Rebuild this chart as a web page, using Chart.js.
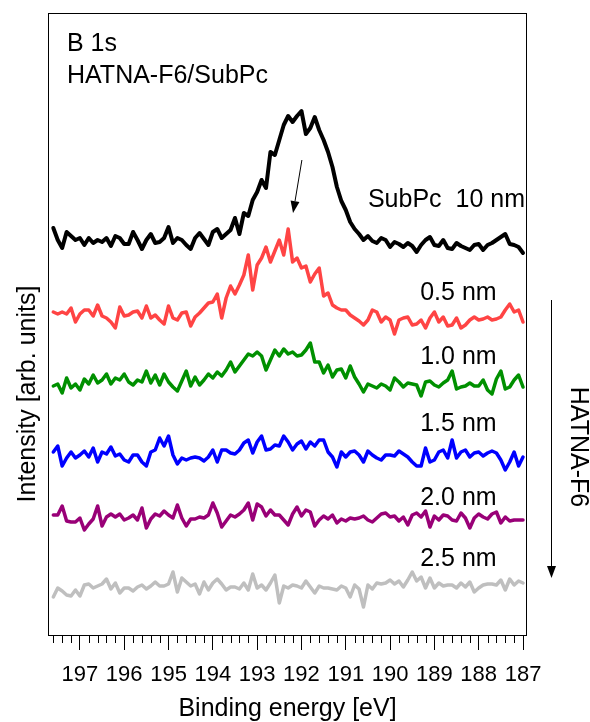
<!DOCTYPE html>
<html>
<head>
<meta charset="utf-8">
<script src="https://cdn.jsdelivr.net/npm/chart.js@4.4.0/dist/chart.umd.min.js"></script>
<style>
  html, body { margin: 0; padding: 0; background: #fff; }
  canvas { display: block; }
</style>
</head>
<body>
<canvas id="myChart" width="590" height="722"></canvas>
<script>
// binding energy of each sample [eV]
const energies = [
  197.6, 197.5, 197.4, 197.3, 197.2, 197.1, 197.0, 196.9, 196.8, 196.7,
  196.6, 196.5, 196.4, 196.3, 196.2, 196.1, 196.0, 195.9, 195.8, 195.7,
  195.6, 195.5, 195.4, 195.3, 195.2, 195.1, 195.0, 194.9, 194.8, 194.7,
  194.6, 194.5, 194.4, 194.3, 194.2, 194.1, 194.0, 193.9, 193.8, 193.7,
  193.6, 193.5, 193.4, 193.3, 193.2, 193.1, 193.0, 192.9, 192.8, 192.7,
  192.6, 192.5, 192.4, 192.3, 192.2, 192.1, 192.0, 191.9, 191.8, 191.7,
  191.6, 191.5, 191.4, 191.3, 191.2, 191.1, 191.0, 190.9, 190.8, 190.7,
  190.6, 190.5, 190.4, 190.3, 190.2, 190.1, 190.0, 189.9, 189.8, 189.7,
  189.6, 189.5, 189.4, 189.3, 189.2, 189.1, 189.0, 188.9, 188.8, 188.7,
  188.6, 188.5, 188.4, 188.3, 188.2, 188.1, 188.0, 187.9, 187.8, 187.7,
  187.6, 187.5, 187.4, 187.3, 187.2, 187.1, 187.0
];

// intensities (offset for display, arb. units)
const subpc10nm = [
  407, 395, 387, 403, 399, 395, 397, 390, 397, 392,
  395, 393, 397, 389, 399, 397, 391, 391, 403, 395,
  386, 395, 401, 392, 393, 397, 408, 392, 397, 395,
  390, 386, 397, 402, 396, 390, 403, 406, 397, 401,
  405, 417, 401, 422, 419, 435, 443, 455, 447, 483,
  480, 495, 510, 519, 513, 519, 524, 501, 507, 518,
  505, 495, 483, 468, 448, 434, 425, 413, 406, 401,
  395, 399, 394, 392, 397, 395, 388, 393, 391, 388,
  392, 389, 383, 390, 395, 398, 390, 389, 395, 387,
  386, 392, 389, 387, 385, 390, 391, 385, 390, 392,
  395, 398, 401, 391, 390, 388, 382
];
const hatna05 = [
  323, 321, 323, 321, 327, 313, 321, 325, 325, 319,
  330, 319, 317, 313, 307, 328, 319, 320, 323, 324,
  317, 329, 317, 320, 315, 311, 329, 317, 315, 322,
  323, 309, 318, 322, 327, 332, 333, 341, 317, 337,
  349, 341, 350, 360, 380, 345, 370, 377, 388, 373,
  384, 395, 380, 406, 373, 377, 367, 369, 353, 361,
  367, 339, 342, 330, 327, 325, 325, 320, 317, 314,
  310, 315, 325, 323, 313, 318, 315, 301, 315, 317,
  318, 310, 311, 315, 307, 317, 323, 313, 318, 309,
  310, 317, 307, 310, 315, 318, 315, 316, 318, 315,
  316, 318, 325, 331, 323, 325, 313
];
const hatna10 = [
  249, 251, 242, 257, 247, 251, 245, 256, 251, 260,
  252, 255, 261, 251, 257, 255, 261, 253, 250, 255,
  253, 264, 252, 260, 250, 261, 253, 248, 244, 254,
  264, 249, 258, 250, 255, 261, 257, 263, 259, 265,
  273, 263, 269, 275, 281, 279, 283, 279, 265, 275,
  285, 279, 286, 281, 283, 279, 280, 285, 292, 273,
  273, 262, 270, 258, 265, 266, 257, 269, 258, 251,
  243, 251, 249, 247, 251, 249, 245, 257, 253, 248,
  252, 251, 250, 239, 253, 254, 250, 248, 252, 255,
  264, 246, 248, 249, 252, 249, 249, 255, 245, 241,
  256, 264, 246, 248, 255, 260, 248
];
const hatna15 = [
  183, 189, 169, 177, 183, 177, 180, 184, 178, 187,
  173, 183, 181, 188, 179, 181, 175, 173, 180, 180,
  173, 169, 183, 185, 197, 189, 199, 180, 171, 177,
  175, 177, 178, 177, 174, 178, 185, 173, 185, 185,
  182, 181, 185, 192, 195, 182, 193, 199, 185, 186,
  190, 189, 199, 193, 185, 191, 194, 186, 193, 189,
  195, 195, 183, 178, 168, 183, 178, 183, 184, 180,
  173, 184, 180, 177, 175, 180, 180, 179, 184, 181,
  178, 173, 169, 169, 187, 173, 175, 183, 185, 177,
  195, 177, 183, 185, 178, 182, 183, 179, 182, 184,
  182, 175, 165, 173, 183, 169, 178
];
const hatna20 = [
  120, 120, 129, 114, 113, 113, 117, 105, 111, 116,
  129, 109, 118, 121, 118, 121, 115, 117, 120, 115,
  127, 107, 116, 121, 119, 124, 120, 117, 130, 117,
  109, 116, 116, 118, 117, 120, 132, 122, 108, 114,
  120, 118, 121, 125, 132, 115, 131, 128, 119, 125,
  120, 120, 115, 110, 121, 128, 119, 125, 123, 109,
  115, 119, 116, 120, 112, 116, 114, 117, 116, 117,
  119, 115, 113, 117, 121, 122, 118, 119, 114, 118,
  110, 120, 122, 118, 124, 108, 119, 115, 120, 119,
  115, 114, 122, 117, 107, 117, 121, 118, 116, 121,
  123, 112, 118, 114, 115, 115, 115
];
const hatna25 = [
  38, 47, 44, 40, 39, 45, 39, 50, 51, 47,
  49, 51, 56, 46, 52, 42, 47, 47, 44, 48,
  50, 46, 49, 53, 49, 49, 51, 63, 43, 57,
  53, 49, 51, 41, 53, 45, 52, 56, 51, 45,
  48, 48, 46, 52, 45, 61, 47, 50, 45, 52,
  60, 32, 49, 47, 50, 49, 47, 54, 48, 42,
  49, 47, 47, 46, 45, 49, 47, 38, 50, 46,
  28, 50, 46, 52, 51, 52, 55, 51, 54, 48,
  55, 63, 54, 58, 47, 57, 47, 52, 49, 50,
  50, 47, 52, 48, 53, 43, 47, 50, 51, 51,
  50, 55, 45, 56, 50, 54, 52
];

const tickLabels = [197, 196, 195, 194, 193, 192, 191, 190, 189, 188, 187];
const seriesNames = ['SubPc  10 nm', '0.5 nm', '1.0 nm', '1.5 nm', '2.0 nm', '2.5 nm'];

const FONT = '"Liberation Sans", Arial, sans-serif';
Chart.defaults.font.family = FONT;
Chart.defaults.color = '#000';

function toPoints(values) {
  return values.map((v, i) => ({ x: energies[i], y: v }));
}

function makeSet(name, values, color, width) {
  return {
    label: name,
    data: toPoints(values),
    borderColor: color,
    borderWidth: width,
    pointRadius: 0,
    tension: 0,
    fill: false,
    borderJoinStyle: 'round',
    borderCapStyle: 'round'
  };
}

// label anchors in data coordinates (energy, intensity)
const labelSpots = [
  [190.50, 435],
  [189.32, 342],
  [189.32, 278],
  [189.32, 211],
  [189.32, 137],
  [189.32, 76]
];

function drawArrow(ctx, x0, y0, x1, y1, head, half) {
  const ang = Math.atan2(y1 - y0, x1 - x0);
  const bx = x1 - head * Math.cos(ang);
  const by = y1 - head * Math.sin(ang);
  ctx.beginPath();
  ctx.moveTo(x0, y0);
  ctx.lineTo(bx, by);
  ctx.stroke();
  ctx.beginPath();
  ctx.moveTo(x1, y1);
  ctx.lineTo(bx + half * Math.sin(ang), by - half * Math.cos(ang));
  ctx.lineTo(bx - half * Math.sin(ang), by + half * Math.cos(ang));
  ctx.closePath();
  ctx.fill();
}

const decorations = {
  id: 'decorations',
  afterDraw(chart) {
    const { ctx, chartArea: a, scales: { x, y } } = chart;
    ctx.save();
    ctx.strokeStyle = '#000';
    ctx.fillStyle = '#000';
    ctx.lineWidth = 1;

    // frame
    ctx.strokeRect(a.left + 0.5, a.top + 0.5, a.right - a.left - 1, a.bottom - a.top);

    // minor ticks every 0.2 eV
    ctx.beginPath();
    for (let k = 1; k < 54; k++) {
      const v = 187 + k * 0.2;
      if (k % 5 === 0) continue;
      const px = Math.round(x.getPixelForValue(v)) + 0.5;
      ctx.moveTo(px, a.bottom);
      ctx.lineTo(px, a.bottom + 8);
    }
    ctx.stroke();

    // texts inside plot
    ctx.font = '25px ' + FONT;
    ctx.textBaseline = 'middle';
    ctx.textAlign = 'left';
    ctx.fillText('B 1s', a.left + 19, a.top + 31);
    ctx.fillText('HATNA-F6/SubPc', a.left + 19, a.top + 63);
    seriesNames.forEach((name, i) => {
      const [e, v] = labelSpots[i];
      ctx.fillText(name, x.getPixelForValue(e), y.getPixelForValue(v));
    });

    // shift arrow
    drawArrow(ctx,
      x.getPixelForValue(191.99), y.getPixelForValue(475),
      x.getPixelForValue(192.19), y.getPixelForValue(422), 12, 4.5);

    // thickness arrow and label on the right
    drawArrow(ctx, a.right + 24.5, a.top + 287, a.right + 24.5, a.top + 565, 12, 4.5);
    ctx.save();
    ctx.translate(a.right + 51, a.top + 434);
    ctx.rotate(Math.PI / 2);
    ctx.textAlign = 'center';
    ctx.fillText('HATNA-F6', 0, 0);
    ctx.restore();

    // y axis title
    ctx.save();
    ctx.translate(28, a.top + 381);
    ctx.rotate(-Math.PI / 2);
    ctx.textAlign = 'center';
    ctx.fillText('Intensity [arb. units]', 0, 0);
    ctx.restore();

    ctx.restore();
  }
};

new Chart(document.getElementById('myChart').getContext('2d'), {
  type: 'line',
  data: {
    datasets: [
      makeSet(seriesNames[5], hatna25, '#bfbfbf', 3.5),
      makeSet(seriesNames[4], hatna20, '#990077', 3.5),
      makeSet(seriesNames[3], hatna15, '#0000ff', 3.5),
      makeSet(seriesNames[2], hatna10, '#009000', 3.5),
      makeSet(seriesNames[1], hatna05, '#ff4444', 3.5),
      makeSet(seriesNames[0], subpc10nm, '#000000', 4)
    ]
  },
  options: {
    responsive: false,
    animation: false,
    devicePixelRatio: 1,
    layout: { padding: { left: 48, right: 63, top: 13, bottom: 0 } },
    plugins: { legend: { display: false }, tooltip: { enabled: false } },
    scales: {
      x: {
        type: 'linear',
        reverse: true,
        min: 186.91,
        max: 197.72,
        afterBuildTicks: s => { s.ticks = tickLabels.map(v => ({ value: v })); },
        afterFit: s => { s.height = 87; },
        border: { display: false },
        grid: { display: true, drawOnChartArea: false, drawTicks: true, tickLength: 15, color: '#000', lineWidth: 1 },
        ticks: { autoSkip: false, maxRotation: 0, padding: 12, font: { size: 22 }, color: '#000' },
        title: {
          display: true,
          text: 'Binding energy [eV]',
          font: { size: 25, lineHeight: 1.0 },
          padding: { top: 0, bottom: 0 },
          color: '#000'
        }
      },
      y: {
        display: false,
        min: 0,
        max: 622
      }
    }
  },
  plugins: [decorations]
});
</script>
</body>
</html>
